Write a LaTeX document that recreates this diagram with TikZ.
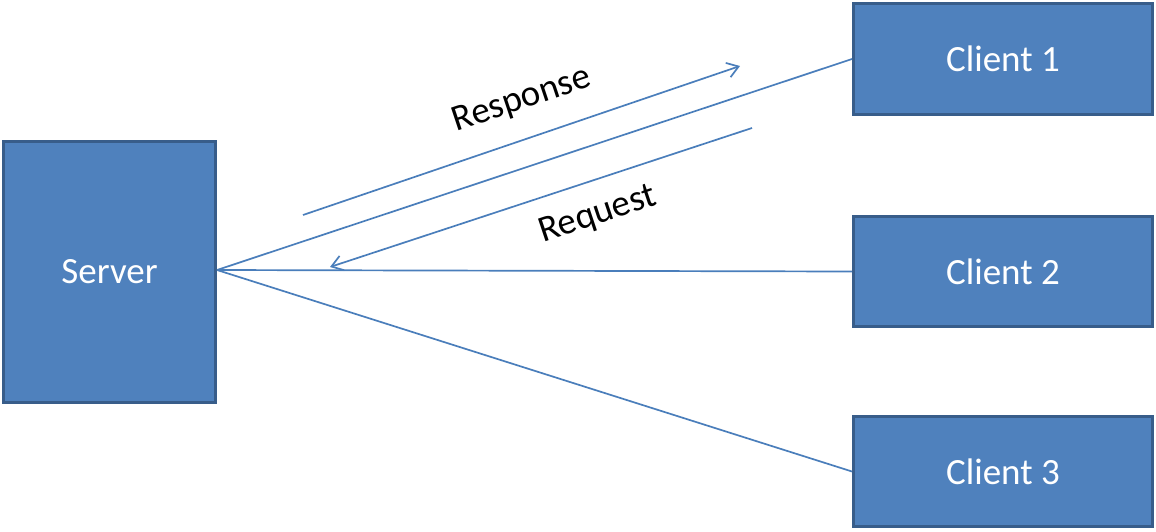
\documentclass[tikz,border=0pt]{standalone}
\usepackage{fontspec}
\setmainfont{Carlito}
\usetikzlibrary{arrows.meta}
\definecolor{boxfill}{HTML}{4F81BD}
\definecolor{boxline}{HTML}{385D8A}
\definecolor{conn}{HTML}{4A7EBB}
\begin{document}
\begin{tikzpicture}[x=1pt,y=-1pt,
  box/.style={draw=boxline,fill=boxfill,line width=3pt,text=white,inner sep=0pt,
    font=\fontsize{37}{42}\selectfont},
  link/.style={draw=conn,line width=1.7pt},
  msg/.style={draw=conn,line width=1.7pt,-{Straight Barb[length=11pt,width=15pt,line width=1.7pt]}},
  lbl/.style={font=\fontsize{37}{42}\selectfont,text=black,inner sep=0pt}]
\useasboundingbox (0,0) rectangle (1156,531);
\node[box,minimum width=212pt,minimum height=261pt] (server) at (109.5,272) {Server};
\node[box,minimum width=299pt,minimum height=111pt] (c1) at (1003,59) {Client 1};
\node[box,minimum width=299pt,minimum height=110pt] (c2) at (1003,271.5) {Client 2};
\node[box,minimum width=299pt,minimum height=110pt] (c3) at (1003,471.5) {Client 3};
\coordinate (hub) at (217,270);
\draw[link] (hub) -- (c1.west);
\draw[link] (hub) -- (c2.west);
\draw[link] (hub) -- (c3.west);
\coordinate (rs) at (303,215);
\coordinate (re) at (740,66);
\coordinate (qs) at (752,128);
\coordinate (qe) at (330,267);
\draw[msg] (rs) -- (re);
\draw[msg] (qs) -- (qe);
\node[lbl,rotate=18.5] (resp) at (522,100) {Response};
\node[lbl,rotate=18.5] (req) at (598,215) {Request};
\end{tikzpicture}
\end{document}
